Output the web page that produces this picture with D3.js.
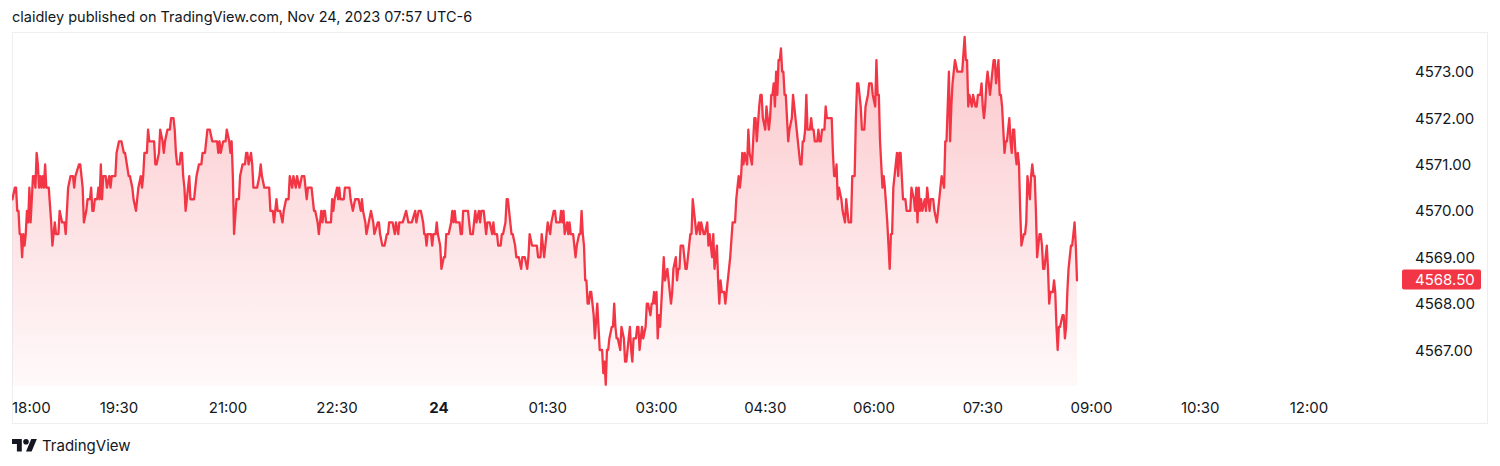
<!DOCTYPE html>
<html><head><meta charset="utf-8">
<script src="https://cdn.jsdelivr.net/npm/d3@7"></script>
<style>
html,body{margin:0;padding:0;background:#fff;}
svg{display:block;font-family:Inter,"Noto Sans",Roboto,sans-serif;}
</style></head><body>
<svg id="chart" width="1500" height="466"></svg>
<script>
// ---------------- data ----------------
const titleText = "claidley published on TradingView.com, Nov 24, 2023 07:57 UTC-6";
const brandText = "TradingView";
const sessionStart = new Date(2023, 10, 23, 18, 0); // minutes below are counted from here
const minutesFromStart = [
2,4,5,6,7,8,9,10,11,12, 13,14,15,16,17,18,19,20,21,22, 23,24,25,26,27,28,29,30,32,34,
35,37,38,40,41,43,45,46,48,50, 52,53,54,57,58,60,61,63,64,66, 67,68,69,70,72,73,74,75,76,77,
79,80,82,83,84,87,88,90,92,94, 95,98,99,101,102,104,105,106,108,109, 110,111,113,114,115,
119,120,121,123,124,126,127,128,130,132, 133,135,136,137,138,140,141,142,143,144,
145,147,148,149,152,153,154,156,158,159, 161,163,165,167,171,172,173,174,176,178,
179,181,182,183,184,185,187,189,190,192, 194,195,196,197,199,200,201,204,206,207,
208,210,214,215,217,218,220,221,223,225, 226,228,230,231,233,234,236,237,239,241,
243,245,246,249,251,252,254,255,257,258, 259,260,261,265,266,267,268,270,271,272,
273,276,277,281,282,284,286,289,291,292, 293,295,296,298,300,302,303,306,307,308,
310,312,314,315,316,319,321,322,324,325, 328,331,333,336,339,340,342,344,346,347,
348,349,350,353,354,
355,357,358,359,361,362,364,365,366,368, 370,371,372,373,374,377,378,379,380,384,
386,388,390,391,393,394,395,397,399,400, 402,404,405,406,408,409,411,412,413,415,
416,417,419,420,421,423,424,426,428,429, 431,433,434,435,437,441,442,444,445,447,
449,450,452,453,455,456,457,460,461,462, 463,464,466,467,468,469,471,472,473,474,
476,477,478,479,480,481,
482,483,484,485,486,488,489,491,492,493, 495,496,497,498,499,500,501,503,504,505,
506,507,508,510,511,513,514,515,517,518, 519,520,521,523,524,525,526,528,529,531,
532,533,535,536,537,538,539,540,541,542, 543,544,546,547,549,550,551,552,553,554,
556,557,558,559,560,562,563,564,565,566, 568,569,570,572,573,575,576,577,579,580,
582,583,584,586,587,588,590,591,592,
593,594,596,597,599,600,601,603,605,606, 607,608,609,610,611,612,613,615,616,617,
619,620,621,622,623,625,626,627,628,630, 631,633,634,635,636,637,638,639,640,641,
642,643,644,645,646,647,648,649,650,652, 653,654,655,656,657,659,660,661,662,663,
664,665,667,668,669,670,671,673,674,675, 676,677,679,680,681,685,686,687,688,689,690,691,
693,694,696,697,698,699,701,702,704,705, 706,707,709,710,712,713,715,716,718,719,
721,722,723,724,725,726,727,728,729,731, 732,733,734,735,736,738,739,740,741,742,
743,744,746,747,750,751,753,754,755,756, 757,758,759,760,762,763,764,765,766,767,
769,770,772,773,774,775,776,778,779,780, 782,783,784,785,787,789,793,795,796,797,
798,799,801,802,804,805,806,808,
809,810,811,812,813,814,815,816,817,818, 819,820,821,823,824,825,826,827,828,829,
830,832,833,834,835,836,837,838,839,840, 841,842,844,845,846,847,849,850,851,852,
853,854,855,857,858,859,860,861,862,863, 864,865,866,868,869,870,871,872,873,874,
876,877,878,879,880,881,883,884,885,886,887,888
];
const prices = [
4570.25,4570.5,4570.5,4570,4570,4569.5,4569.5,4569,4569.5,4569.25,
4569.5,4570,4569.75,4570.5,4569.75,4570.25,4570.75,4570.75,4570.5,4571.25,
4571,4570.5,4570.75,4570.5,4570.75,4570.5,4571,4570.5,4570.5,4569.75,
4569.25,4569.75,4569.5,4569.5,4570,4569.75,4569.75,4569.5,4570.5,4570.75,
4570.75,4570.5,4570.75,4571,4571,4570.5,4569.75,4570,4570.25,4570.25,
4570.5,4570,4570,4570.25,4570.25,4570.5,4570.25,4571,4570.25,4570.75,
4570.75,4570.5,4570.75,4570.5,4570.75,4570.75,4571.25,4571.5,4571.5,4571.25,
4571.25,4570.75,4570.75,4570.5,4570.25,4570,4570.25,4570.5,4570.75,4570.5,
4570.75,4571.25,4571.25,4571.75,4571.5,
4571.5,4571,4571,4571.25,4571.75,4571.5,4571.25,4571.5,4571.75,4571.75,
4572,4572,4571.75,4571.25,4571,4571,4571.25,4571.25,4570.75,4570.5,
4570,4570.5,4570.75,4570.25,4570.25,4570.5,4570.75,4571,4571,4571.25,
4571.25,4571.75,4571.75,4571.5,4571.5,4571.25,4571.5,4571.25,4571.5,4571.5,
4571.75,4571.5,4571.25,4571.5,4570.75,4569.5,4570.25,4570.25,4570.75,4571,
4571,4571.25,4571.25,4571,4571.25,4571,4570.5,4570.5,4570.75,4571,
4570.75,4570.5,4570.5,4570,4570,4569.75,4570.25,4570,4570,4569.75,
4570,4570.25,4570.25,4570.75,4570.5,4570.75,4570.5,4570.75,4570.5,4570.75,
4570.75,4570.25,4570.5,4570.5,4570,4570,4569.75,4569.5,4570,4569.75,
4570,4570,4569.75,4569.75,4570.25,4570,4570.25,4570.5,4570.25,4570.5,
4570.25,4570.25,4570.5,4570.5,4570.25,4570,4570.25,4570.25,4570,4570.25,
4570,4569.75,4569.5,4569.75,4570,4569.75,4569.5,4569.75,4569.75,4569.5,
4569.25,4569.25,4569.5,4569.5,4569.75,4569.75,4569.5,4569.75,4569.5,4569.75,
4569.75,4570,4569.75,4569.75,4570,4569.75,4570,4570,4569.75,4569.5,
4569.5,4569.25,4569.5,4569.5,4569.25,
4569.5,4569.5,4569.75,4569.5,4569.25,4568.75,4569,4569,4569.5,4569.5,
4569.75,4570,4569.75,4570,4569.75,4569.75,4569.5,4569.5,4570,4570,
4569.5,4569.5,4570,4569.75,4570,4569.75,4570,4570,4569.5,4569.75,
4569.75,4569.5,4569.75,4569.5,4569.5,4569.25,4569.25,4569.5,4569.5,4569.75,
4570.25,4570.25,4569.75,4569.5,4569.5,4569.25,4569,4569,4568.75,4569,
4569,4568.75,4569,4569.5,4569.25,4569.25,4569,4569,4569.5,4569,
4569.5,4569.75,4569.5,4569.75,4570,4570,4569.75,4569.75,4570,4569.75,
4570,4569.5,4569.75,4569.5,4569.75,4569.5,4569.5,4569.25,4569,4569.25,
4569.5,4569.5,4570,4569.5,4569.25,4568.5,
4568.5,4568,4568,4568.25,4568.25,4567.75,4567.25,4568,4567.5,4567,
4567,4566.5,4566.75,4566.25,4567,4567,4567.25,4567.5,4567.5,4568,
4567.5,4567.25,4567.25,4567,4567.5,4567.25,4566.75,4566.75,4567.25,4567.5,
4567,4566.75,4567.25,4567.25,4567.5,4567.5,4567,4567.5,4567.25,4567.5,
4568,4568,4567.75,4568,4568,4568.25,4568,4568.25,4567.25,4567.75,
4567.5,4568,4569,4568.5,4568.75,4568.5,4568.25,4568,4568.25,4568.75,
4569,4568.5,4568.75,4568.75,4569.25,4569.25,4569,4568.75,4568.75,4569,
4569.5,4569.5,4570.25,4569.75,4569.5,4569.75,4569.5,4569.75,4569.5,4569.5,
4569.75,4569.25,4569.5,4569,4569.5,4568.75,4569.25,4568.5,4568,
4568.5,4568.25,4568.25,4568,4568.5,4568.75,4569,4569.75,4569.75,4570.25,
4570.5,4570.75,4570.5,4570.75,4571.25,4571,4571.25,4571,4571.75,4571.25,
4571,4571.5,4572,4572,4571.5,4572.25,4572.5,4572.5,4572,4571.75,
4572.25,4571.75,4572,4572.5,4572.5,4572.75,4572.25,4573,4572.5,4573.25,
4573.25,4573.5,4573,4573,4572.5,4572.5,4572,4571.5,4571.75,4572,
4572.5,4572.25,4572,4571.75,4571.5,4571,4571,4571.5,4571.5,4571.75,
4572.5,4571.75,4571.75,4572,4571.75,4571.75,4571.5,4571.5,4571.75,4571.5,
4571.5,4571.75,4571.75,4572.25,4572,4572,4571.25,4570.75,4570.75,4571,4570.25,4570.5,
4570.25,4570,4569.75,4570.25,4570,4569.75,4569.75,4570.75,4570.75,4572,
4572.75,4572.75,4572.25,4571.75,4571.75,4572.25,4572.5,4572.75,4572.75,4572.5,
4572.25,4573.25,4572.5,4572.5,4571.5,4571,4570.5,4570.75,4570.5,4569.75,
4569.25,4568.75,4569.5,4569.5,4570.5,4571,4571.25,4570.75,4571.25,4571.25,
4570.75,4570.25,4570.25,4570,4570,4570.5,4570.25,4570,4570.5,4569.75,
4570.5,4570,4570.25,4570,4570.25,4570,4570.5,4570.25,4570,4570.25,
4570.25,4570,4569.75,4570,4570.25,4570.5,4570.75,4570.5,4571.5,4571.5,
4573,4571.5,4572.25,4572.75,4573.25,4573,4573,4573.75,4573.25,4573.25,
4572.25,4572.5,4572.25,4572.5,4572.25,4572.25,4572.5,4572.5,
4572.75,4572.25,4572,4572.25,4572.75,4573,4572.75,4572.5,4572.75,4573,
4573.25,4573.25,4572.75,4573.25,4572.5,4572.5,4572.25,4571.75,4571.25,4571.5,
4571.5,4572,4571.5,4571.25,4571.75,4571.75,4571.25,4571,4571.25,4571,
4570,4569.25,4569.5,4569.5,4569.75,4570.75,4570.25,4570.75,4571,4570.75,
4570.75,4570,4569,4569.5,4569.5,4569.25,4568.75,4568.75,4569,4569.25,
4568.75,4568,4568.25,4568.25,4568.5,4568.25,4567.5,4567,4567.5,4567.5,
4567.75,4567.75,4567.25,4567.5,4568.25,4568.75,4569.25,4569.25,4569.5,4569.75,4569.25,4568.5
];
const priceTicks = [4567, 4568, 4569, 4570, 4571, 4572, 4573];
const timeTickMinutes = [0, 90, 180, 270, 360, 450, 540, 630, 720, 810, 900, 990, 1080];
const lastPrice = 4568.50;

// ---------------- layout ----------------
const W = 1500, H = 466;
const paneLeft = 12, paneRight = 1401, paneTop = 33, paneBottom = 386;
const frame = {x: 12.5, y: 32.5, w: 1475, h: 391};
const RED = "#f23645", TEXT = "#131722";

const svg = d3.select("#chart");
const addMin = m => new Date(sessionStart.getTime() + m * 60000);
const data = minutesFromStart.map((m, i) => ({t: addMin(m), p: prices[i]}));

// time scale (TradingView compresses sparse pre-midnight bars)
const x = d3.scaleTime()
  .domain([addMin(0), addMin(270), addMin(360), addMin(1080)])
  .range([10, 337, 439, 1309]);
const y = d3.scaleLinear().domain([4567, 4573]).range([350, 71.7]);

// header
svg.append("text").attr("x", 12).attr("y", 16).attr("dominant-baseline", "central")
  .attr("font-size", 14.5).attr("fill", TEXT).text(titleText);

// frame
svg.append("rect").attr("x", frame.x).attr("y", frame.y).attr("width", frame.w).attr("height", frame.h)
  .attr("fill", "none").attr("stroke", "#eceef2").attr("stroke-width", 1);

// gradient
const defs = svg.append("defs");
const g = defs.append("linearGradient").attr("id", "areaGrad")
  .attr("gradientUnits", "userSpaceOnUse").attr("x1", 0).attr("x2", 0).attr("y1", 35).attr("y2", paneBottom);
g.append("stop").attr("offset", 0).attr("stop-color", RED).attr("stop-opacity", 0.28);
g.append("stop").attr("offset", 1).attr("stop-color", RED).attr("stop-opacity", 0.03);
defs.append("clipPath").attr("id", "pane").append("rect")
  .attr("x", paneLeft).attr("y", paneTop).attr("width", paneRight - paneLeft).attr("height", paneBottom - paneTop);

const plot = svg.append("g").attr("clip-path", "url(#pane)");
plot.append("path").datum(data)
  .attr("d", d3.area().x(d => x(d.t)).y0(paneBottom).y1(d => y(d.p)))
  .attr("fill", "url(#areaGrad)");
plot.append("path").datum(data)
  .attr("d", d3.line().x(d => x(d.t)).y(d => y(d.p)))
  .attr("fill", "none").attr("stroke", RED).attr("stroke-width", 2.3)
  .attr("stroke-linejoin", "round").attr("stroke-linecap", "round");

// price axis
const yAxis = svg.append("g").attr("font-size", 15).attr("fill", TEXT);
yAxis.selectAll("text").data(priceTicks).join("text")
  .attr("x", 1415).attr("y", d => y(d)).attr("dominant-baseline", "central")
  .text(d3.format(".2f"));

// last price label
const ly = y(lastPrice);
svg.append("rect").attr("x", 1402).attr("y", ly - 11).attr("width", 79).attr("height", 20)
  .attr("rx", 2).attr("fill", RED);
svg.append("text").attr("x", 1415).attr("y", ly - 1).attr("dominant-baseline", "central")
  .attr("font-size", 15).attr("fill", "#fff").text(d3.format(".2f")(lastPrice));

// time axis
const fmt = d => (d.getHours() === 0 && d.getMinutes() === 0) ? d3.timeFormat("%-d")(d) : d3.timeFormat("%H:%M")(d);
const xAxis = svg.append("g").attr("font-size", 15).attr("fill", TEXT);
const tickDates = timeTickMinutes.map(addMin);
const labels = xAxis.selectAll("text").data(tickDates).join("text")
  .attr("x", d => x(d)).attr("y", 407).attr("dominant-baseline", "central")
  .attr("text-anchor", "middle")
  .attr("font-weight", d => (d.getHours() === 0 && d.getMinutes() === 0) ? 700 : 400)
  .text(fmt);
labels.each(function(d) {
  const w = this.getComputedTextLength();
  const cx = x(d);
  if (cx - w / 2 < paneLeft) d3.select(this).attr("x", paneLeft + w / 2);
});

// brand
const logo = svg.append("g").attr("transform", "translate(12,436.2) scale(0.7)").attr("fill", TEXT);
logo.append("path").attr("d", "M14 22H7V11H0V4h14v18zM28 22h-8l7.5-18h8L28 22z");
logo.append("circle").attr("cx", 20).attr("cy", 8).attr("r", 4);
svg.append("text").attr("x", 42).attr("y", 445).attr("dominant-baseline", "central")
  .attr("font-size", 15).attr("fill", TEXT).text(brandText);
</script>
</body></html>
